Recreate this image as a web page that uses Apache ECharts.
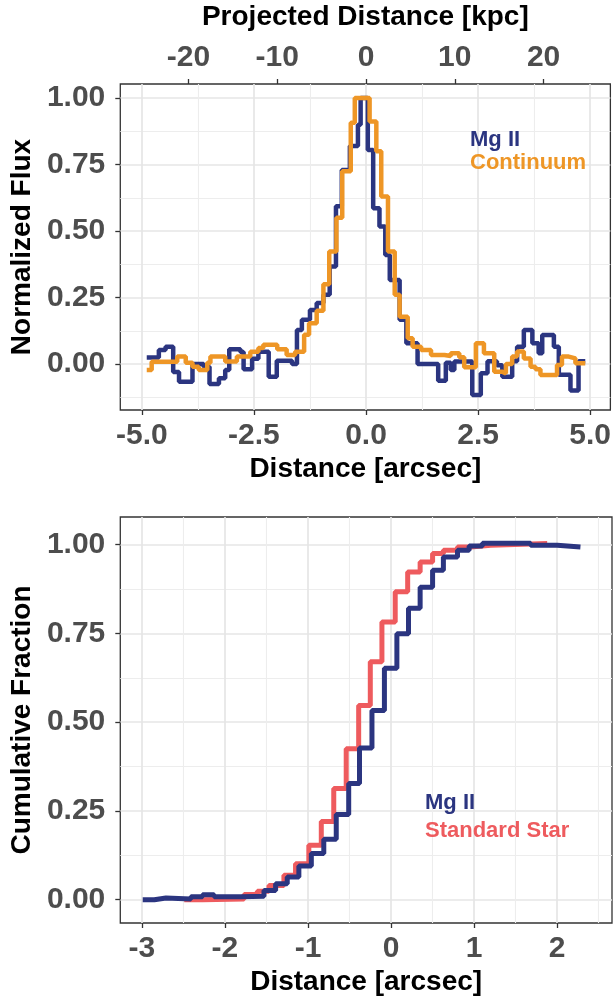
<!DOCTYPE html>
<html>
<head>
<meta charset="utf-8">
<script src="https://cdn.jsdelivr.net/npm/echarts@6/dist/echarts.min.js"></script>
<style>
html, body { margin: 0; padding: 0; background: #fff; }
#main { width: 614px; height: 999px; }
</style>
</head>
<body>
<div id="main"></div>
<script>
// top panel: step profiles, each x is where a step starts (arcsec), last x is the end
var mgFluxX = [-4.89, -4.62, -4.47, -4.30, -4.17, -3.87, -3.62, -3.49, -3.28, -3.14, -3.05, -2.80, -2.73, -2.54, -2.40, -2.17, -1.99, -1.65, -1.54, -1.43, -1.25, -1.10, -0.95, -0.81, -0.67, -0.54, -0.36, -0.18, -0.12, 0.04, 0.16, 0.30, 0.43, 0.53, 0.75, 0.90, 1.15, 1.61, 1.78, 1.89, 1.97, 2.37, 2.56, 2.71, 2.92, 3.04, 3.26, 3.37, 3.52, 3.71, 3.85, 3.93, 4.19, 4.30, 4.56, 4.74, 4.89];
var mgFluxY = [0.024, 0.053, 0.065, -0.03, -0.067, 0.0, -0.01, -0.075, -0.054, -0.023, 0.055, 0.045, -0.02, 0.02, 0.046, -0.048, 0.012, 0.0, 0.128, 0.166, 0.203, 0.229, 0.26, 0.367, 0.593, 0.73, 0.82, 0.9, 1.0, 0.805, 0.586, 0.517, 0.41, 0.316, 0.166, 0.078, 0.0, -0.063, 0.005, -0.023, 0.009, -0.117, -0.035, 0.01, -0.005, -0.048, 0.01, 0.065, 0.128, 0.078, 0.04, 0.109, 0.065, -0.04, -0.1, 0.01, 0.01];
var contFluxX = [-4.89, -4.78, -4.21, -4.02, -3.87, -3.73, -3.54, -3.47, -3.14, -2.88, -2.58, -2.40, -2.29, -1.98, -1.77, -1.58, -1.38, -1.27, -1.10, -0.95, -0.82, -0.66, -0.53, -0.34, -0.25, 0.08, 0.23, 0.34, 0.49, 0.64, 0.75, 0.93, 1.04, 1.23, 1.45, 1.75, 1.89, 2.08, 2.19, 2.45, 2.63, 2.86, 3.03, 3.12, 3.26, 3.37, 3.52, 3.67, 3.78, 3.89, 4.26, 4.37, 4.52, 4.67, 4.89];
var contFluxY = [-0.023, 0.008, 0.028, 0.005, -0.01, -0.023, 0.005, 0.028, 0.009, 0.028, 0.046, 0.06, 0.072, 0.055, 0.034, 0.046, 0.11, 0.153, 0.2, 0.3, 0.423, 0.55, 0.725, 0.907, 1.0, 0.912, 0.8, 0.63, 0.423, 0.26, 0.178, 0.097, 0.065, 0.053, 0.034, 0.03, 0.04, 0.025, -0.012, 0.078, 0.04, -0.029, -0.035, 0.0, 0.028, 0.047, 0.021, -0.01, -0.02, -0.041, -0.004, 0.028, 0.021, 0.003, 0.003];

// bottom panel: cumulative fractions
var mgCumX = [-2.99, -2.85, -2.71, -2.41, -2.27, -2.13, -1.81, -1.53, -1.39, -1.25, -1.11, -0.96, -0.81, -0.66, -0.51, -0.38, -0.23, -0.08, 0.07, 0.21, 0.35, 0.50, 0.63, 0.80, 0.94, 1.10, 1.68, 2.00, 2.28];
var mgCumY = [0.0, 0.005, 0.002, 0.008, 0.014, 0.008, 0.01, 0.026, 0.045, 0.064, 0.095, 0.13, 0.17, 0.24, 0.327, 0.427, 0.533, 0.652, 0.749, 0.821, 0.88, 0.928, 0.965, 0.984, 0.996, 1.004, 0.998, 0.993, 0.993];
var starCumX = [-2.49, -2.27, -1.77, -1.61, -1.47, -1.29, -1.15, -0.99, -0.84, -0.69, -0.54, -0.39, -0.25, -0.11, 0.05, 0.20, 0.35, 0.50, 0.63, 0.80, 0.96, 1.20, 1.88];
var starCumY = [0.0, 0.002, 0.015, 0.024, 0.04, 0.069, 0.101, 0.153, 0.22, 0.313, 0.425, 0.547, 0.67, 0.782, 0.867, 0.923, 0.951, 0.975, 0.984, 0.993, 0.998, 1.003, 1.003];

// ticks
var fluxTicks = [0, 0.25, 0.5, 0.75, 1];
var fluxMinor = [-0.125, 0.125, 0.375, 0.625, 0.875];
var arcTicks = [-5, -2.5, 0, 2.5, 5];
var arcMinor = [-3.75, -1.25, 1.25, 3.75];
var kpcTicks = [-20, -10, 0, 10, 20];
var cumTicks = [0, 0.25, 0.5, 0.75, 1];
var cumMinor = [0.125, 0.375, 0.625, 0.875];
var distTicks = [-3, -2, -1, 0, 1, 2];
var distMinor = [-2.5, -1.5, -0.5, 0.5, 1.5, 2.5];
var kpcPerArcsec = 5.05;

var topX = [-5.48, 5.45], topY = [-0.173, 1.053];
var botX = [-3.26, 2.66], botY = [-0.0656, 1.0777];

var navy = '#2B3580', orange = '#EE9626', coral = '#EE5B5E';
var font = 'Liberation Sans';

function zip(xs, ys) {
	return xs.map(function (x, i) { return [x, ys[i]]; });
}

function mainAxis(grid, pos, range, ticks, fmt, name, gap, margin) {
	return {
		type: 'value', gridIndex: grid, position: pos,
		min: range[0], max: range[1],
		name: name, nameLocation: 'middle', nameGap: gap,
		nameTextStyle: { fontFamily: font, fontWeight: 'bold', fontSize: 28, color: '#000' },
		axisLine: { show: false, onZero: false },
		axisTick: { show: true, length: 5, customValues: ticks, lineStyle: { color: '#333', width: 1.3 } },
		axisLabel: {
			customValues: ticks, margin: margin,
			fontFamily: font, fontWeight: 'bold', fontSize: 30, color: '#4D4D4D',
			formatter: function (v) { return fmt(v); }
		},
		splitLine: { show: true, lineStyle: { color: '#E6E6E6', width: 1.7 } }
	};
}

function minorAxis(grid, pos, range, ticks) {
	return {
		type: 'value', gridIndex: grid, position: pos,
		min: range[0], max: range[1],
		axisLine: { show: false, onZero: false },
		axisTick: { show: false, customValues: ticks },
		axisLabel: { show: false },
		splitLine: { show: true, lineStyle: { color: '#EDEDED', width: 1.1 } }
	};
}

var kpcAxis = mainAxis(0, 'top', [topX[0] * kpcPerArcsec, topX[1] * kpcPerArcsec], kpcTicks,
	function (v) { return String(v); }, 'Projected Distance [kpc]', 53, 11);
kpcAxis.splitLine = { show: false };

var option = {
	animation: false,
	backgroundColor: '#fff',
	grid: [
		{ left: 119, top: 84, width: 493, height: 326, show: true, borderColor: '#333', borderWidth: 1.3 },
		{ left: 119, top: 517, width: 493, height: 406, show: true, borderColor: '#333', borderWidth: 1.3 }
	],
	xAxis: [
		mainAxis(0, 'bottom', topX, arcTicks, function (v) { return v.toFixed(1); }, 'Distance [arcsec]', 45, 11),
		minorAxis(0, 'bottom', topX, arcMinor),
		kpcAxis,
		mainAxis(1, 'bottom', botX, distTicks, function (v) { return String(v); }, 'Distance [arcsec]', 45, 11),
		minorAxis(1, 'bottom', botX, distMinor)
	],
	yAxis: [
		mainAxis(0, 'left', topY, fluxTicks, function (v) { return v.toFixed(2); }, 'Normalized Flux', 80, 15),
		minorAxis(0, 'left', topY, fluxMinor),
		mainAxis(1, 'left', botY, cumTicks, function (v) { return v.toFixed(2); }, 'Cumulative Fraction', 80, 15),
		minorAxis(1, 'left', botY, cumMinor)
	],
	legend: [
		{
			left: 460, top: 124, orient: 'vertical', icon: 'none', itemWidth: 0, itemHeight: 22, itemGap: 1,
			selectedMode: false,
			textStyle: { fontFamily: font, fontWeight: 'bold', fontSize: 22 },
			data: [
				{ name: 'Mg II', textStyle: { color: navy } },
				{ name: 'Continuum', textStyle: { color: orange } }
			]
		},
		{
			left: 415, top: 787, orient: 'vertical', icon: 'none', itemWidth: 0, itemHeight: 22, itemGap: 6,
			selectedMode: false,
			textStyle: { fontFamily: font, fontWeight: 'bold', fontSize: 22 },
			data: [
				{ name: 'Mg II', textStyle: { color: navy } },
				{ name: 'Standard Star', textStyle: { color: coral } }
			]
		}
	],
	series: [
		{ name: 'Mg II', type: 'line', step: 'end', xAxisIndex: 0, yAxisIndex: 0, showSymbol: false,
			lineStyle: { color: navy, width: 4.5 }, itemStyle: { color: navy }, data: zip(mgFluxX, mgFluxY) },
		{ name: 'Continuum', type: 'line', step: 'end', xAxisIndex: 0, yAxisIndex: 0, showSymbol: false,
			lineStyle: { color: orange, width: 4.5 }, itemStyle: { color: orange }, data: zip(contFluxX, contFluxY) },
		{ name: 'Standard Star', type: 'line', step: 'end', xAxisIndex: 3, yAxisIndex: 2, showSymbol: false,
			lineStyle: { color: coral, width: 5 }, itemStyle: { color: coral }, data: zip(starCumX, starCumY) },
		{ name: 'Mg II', type: 'line', step: 'end', xAxisIndex: 3, yAxisIndex: 2, showSymbol: false,
			lineStyle: { color: navy, width: 5 }, itemStyle: { color: navy }, data: zip(mgCumX, mgCumY) }
	]
};

var chart = echarts.init(document.getElementById('main'));
chart.setOption(option);
</script>
</body>
</html>
